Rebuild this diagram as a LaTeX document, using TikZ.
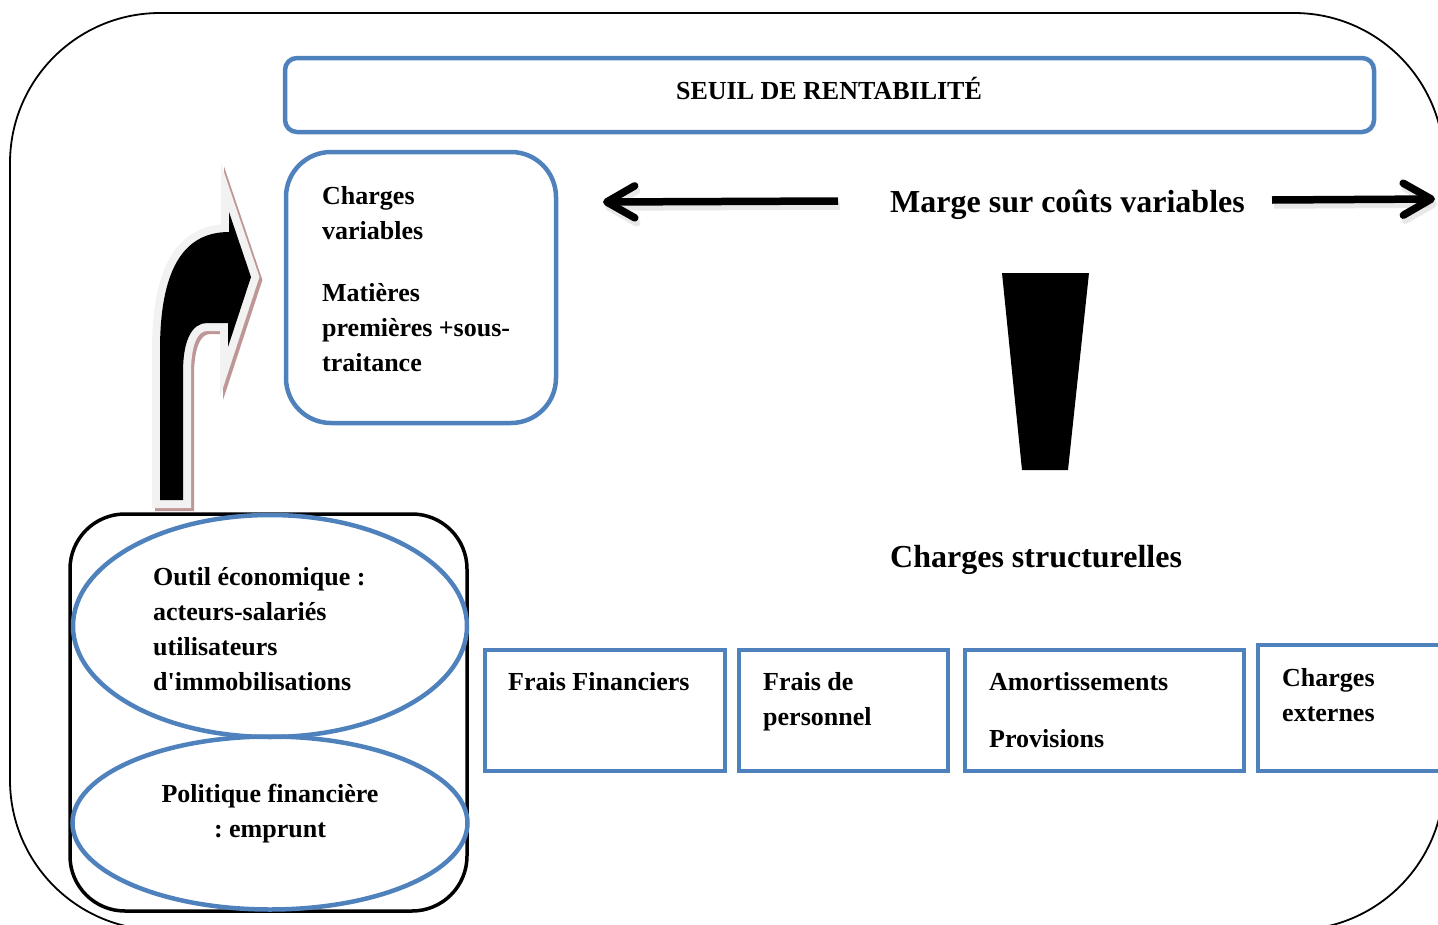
\documentclass[tikz,border=0pt]{standalone}
\usepackage{fontspec}
\setmainfont{Liberation Serif}
\usetikzlibrary{arrows.meta,shapes.geometric}
\definecolor{ofblue}{RGB}{79,129,189}
\definecolor{rimgray}{RGB}{242,242,242}
\definecolor{rimshadow}{RGB}{190,150,150}
\frenchspacing
\begin{document}
\begin{tikzpicture}[x=1pt,y=-1pt,
  lbl/.style={font=\bfseries\fontsize{26}{35}\selectfont, inner sep=0pt, align=left},
  big/.style={font=\bfseries\fontsize{32}{38}\selectfont, inner sep=0pt},
  bluebox/.style={draw=ofblue, line width=4.5pt, inner sep=0pt, outer sep=0pt, anchor=north west},
  bluering/.style={draw=ofblue, line width=4.5pt, outer sep=0pt},
  barrow/.style={line width=7.5pt, -{Straight Barb[length=28pt,width=32pt,round]}},
  bentshape/.style={line join=miter, miter limit=12}
]
\useasboundingbox (0,0) rectangle (1438,924);

% outer frame
\draw[line width=1.8pt, rounded corners=150pt] (10,13) rectangle (1444,930);

% title bar
\node[bluebox, rounded corners=12pt, minimum width=1089pt, minimum height=74pt] (seuil) at (285,58) {};
\node[lbl, anchor=base] (seuiltxt) at (829,99) {SEUIL DE RENTABILITÉ};

% variable costs box
\node[bluebox, rounded corners=45pt, minimum width=270pt, minimum height=271pt] (cv) at (286,152) {};
\node[lbl, anchor=base west] (cvtxt) at (322,371) {Charges\\variables\\[27pt]Matières\\premières +sous-\\traitance};

% contribution margin with its two arrows
\node[big, anchor=base west] (marge) at (890,212) {Marge sur coûts variables};
\coordinate (mL) at (838,201);
\coordinate (mLend) at (603,202);
\coordinate (mR) at (1272,200);
\coordinate (mRend) at (1435,199);
\draw[barrow, black!15, opacity=0.6] ([shift={(2,5)}]mL) -- ([shift={(2,5)}]mLend);
\draw[barrow, black!15, opacity=0.6] ([shift={(2,5)}]mR) -- ([shift={(2,5)}]mRend);
\draw[barrow] (mL) -- (mLend);
\draw[barrow] (mR) -- (mRend);

% tapered bar
\fill (1002,273) -- (1089,273) -- (1068,470) -- (1022,470) -- cycle;

\node[big, anchor=base west] (cs) at (890,567) {Charges structurelles};

% fixed cost boxes
\node[bluebox, minimum width=240pt, minimum height=121pt] (b1) at (485,650) {};
\node[bluebox, minimum width=209pt, minimum height=121pt] (b2) at (739,650) {};
\node[bluebox, minimum width=279pt, minimum height=121pt] (b3) at (965,650) {};
\node[bluebox, minimum width=220pt, minimum height=126pt] (b4) at (1258,645) {};
\node[lbl, anchor=base west] (t1) at (508,690) {Frais Financiers};
\node[lbl, anchor=base west] (t2) at (763,725) {Frais de\\personnel};
\node[lbl, anchor=base west] (t3) at (989,747) {Amortissements\\[22pt]Provisions};
\node[lbl, anchor=base west] (t4) at (1282,721) {Charges\\externes};

% financing block
\node[draw, line width=3.5pt, rounded corners=55pt, minimum width=397pt, minimum height=397pt, inner sep=0pt, outer sep=0pt, anchor=north west] (blk) at (70,514) {};
\node[bluering, ellipse, minimum width=394pt, minimum height=222pt, inner sep=0pt] (e1) at (270,626) {};
\node[bluering, ellipse, minimum width=395pt, minimum height=173pt, inner sep=0pt] (e2) at (270,823) {};
\node[lbl, anchor=base west] (e1txt) at (153,690) {Outil économique :\\acteurs-salariés\\utilisateurs\\d\textquotesingle immobilisations};
\node[lbl, align=center, anchor=base] (e2txt) at (270,837) {Politique financière\\: emprunt};

% bent arrow from the financing block up to the variable costs
\def\bentpath{(160,500) -- (160,350) .. controls (160,272) and (182,232) .. (229,232)
  -- (229,212) -- (251,277) -- (228,347) -- (228,323) -- (207,323)
  .. controls (192,323) and (183,340) .. (183,372) -- (183,500) -- cycle}
\draw[bentshape, rimshadow, line width=16pt] [shift={(3,3)}] \bentpath;
\draw[bentshape, rimgray, line width=16pt] \bentpath;
\fill[black] \bentpath;
\end{tikzpicture}
\end{document}
